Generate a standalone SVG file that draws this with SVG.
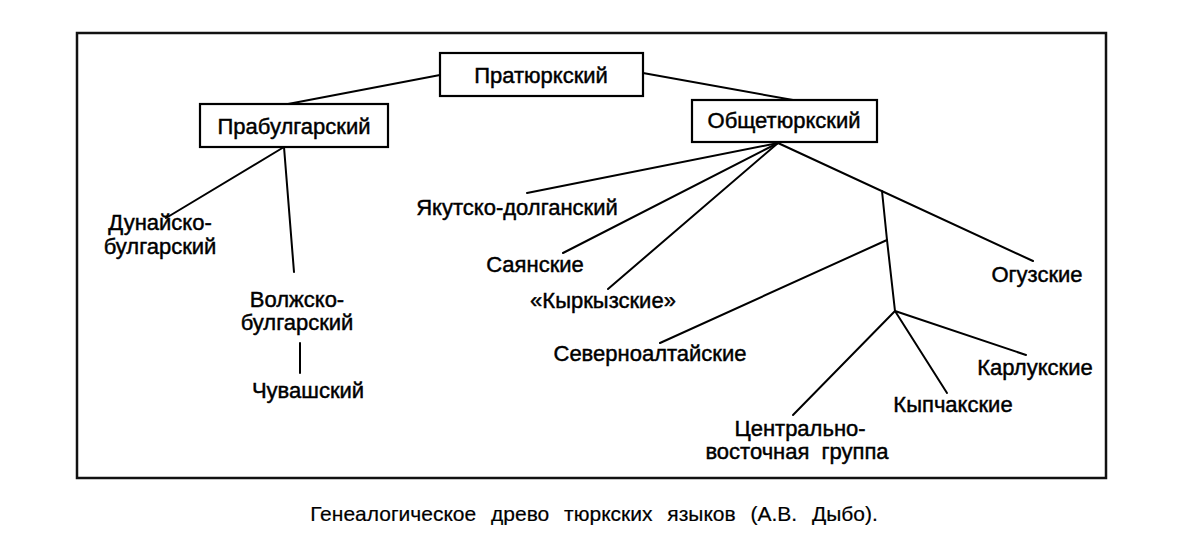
<svg xmlns="http://www.w3.org/2000/svg" width="1200" height="545" viewBox="0 0 1200 545">
<style>
  .box { fill: #fff; stroke: #000; stroke-width: 2.2; }
  .frame { fill: none; stroke: #111; stroke-width: 2.5; }
  .edge { fill: none; stroke: #000; stroke-width: 2; stroke-linecap: round; stroke-linejoin: round; }
  text { font-family: "Liberation Sans", Arial, sans-serif; font-size: 22px; fill: #000; stroke: #000; stroke-width: 0.45; text-anchor: middle; }
  .cap { font-size: 21px; word-spacing: 9px; stroke-width: 0.2; }
</style>
<rect x="0" y="0" width="1200" height="545" fill="#fff"/>
<rect class="frame" x="77" y="33" width="1029" height="445"/>
<g id="connectors">
  <line class="edge" x1="440" y1="75" x2="288" y2="104"/>
  <line class="edge" x1="643" y1="73" x2="793" y2="100"/>
  <line class="edge" x1="284" y1="147" x2="166" y2="218"/>
  <line class="edge" x1="284" y1="147" x2="294" y2="272"/>
  <line class="edge" x1="300" y1="343" x2="300" y2="373"/>
  <line class="edge" x1="778" y1="143" x2="527" y2="193"/>
  <line class="edge" x1="778" y1="143" x2="563" y2="253"/>
  <line class="edge" x1="778" y1="143" x2="608" y2="289"/>
  <line class="edge" x1="778" y1="143" x2="1033" y2="261"/>
  <polyline class="edge" points="882,191 887,240 895,311"/>
  <line class="edge" x1="887" y1="240" x2="660" y2="343"/>
  <line class="edge" x1="895" y1="311" x2="793" y2="415"/>
  <line class="edge" x1="895" y1="311" x2="947" y2="393"/>
  <line class="edge" x1="895" y1="311" x2="1026" y2="355"/>
</g>
<g id="n-praturk">
  <rect class="box" x="440" y="53" width="203" height="43"/>
  <text x="541" y="83">Пратюркский</text>
</g>
<g id="n-prabulgar">
  <rect class="box" x="200" y="104" width="188" height="43"/>
  <text x="294" y="134">Прабулгарский</text>
</g>
<g id="n-obshcheturk">
  <rect class="box" x="692" y="100" width="185" height="42"/>
  <text x="784" y="128">Общетюркский</text>
</g>
<g id="n-dunai">
  <text x="160" y="230">Дунайско-</text>
  <text x="160" y="254">булгарский</text>
</g>
<g id="n-volzh">
  <text x="297" y="307">Волжско-</text>
  <text x="297" y="330">булгарский</text>
</g>
<g id="n-chuvash">
  <text x="308" y="398">Чувашский</text>
</g>
<g id="n-yakut">
  <text x="517" y="215">Якутско-долганский</text>
</g>
<g id="n-sayan">
  <text x="535" y="272">Саянские</text>
</g>
<g id="n-kyrkyz">
  <text x="603" y="308">«Кыркызские»</text>
</g>
<g id="n-sevaltai">
  <text x="650" y="361">Северноалтайские</text>
</g>
<g id="n-oguz">
  <text x="1037" y="282">Огузские</text>
</g>
<g id="n-karluk">
  <text x="1035" y="375">Карлукские</text>
</g>
<g id="n-kypchak">
  <text x="953" y="412">Кыпчакские</text>
</g>
<g id="n-central">
  <text x="800" y="436">Центрально-</text>
  <text x="797" y="459" style="word-spacing:6px">восточная группа</text>
</g>
<text class="cap" x="594" y="521">Генеалогическое древо тюркских языков (А.В. Дыбо).</text>
</svg>
